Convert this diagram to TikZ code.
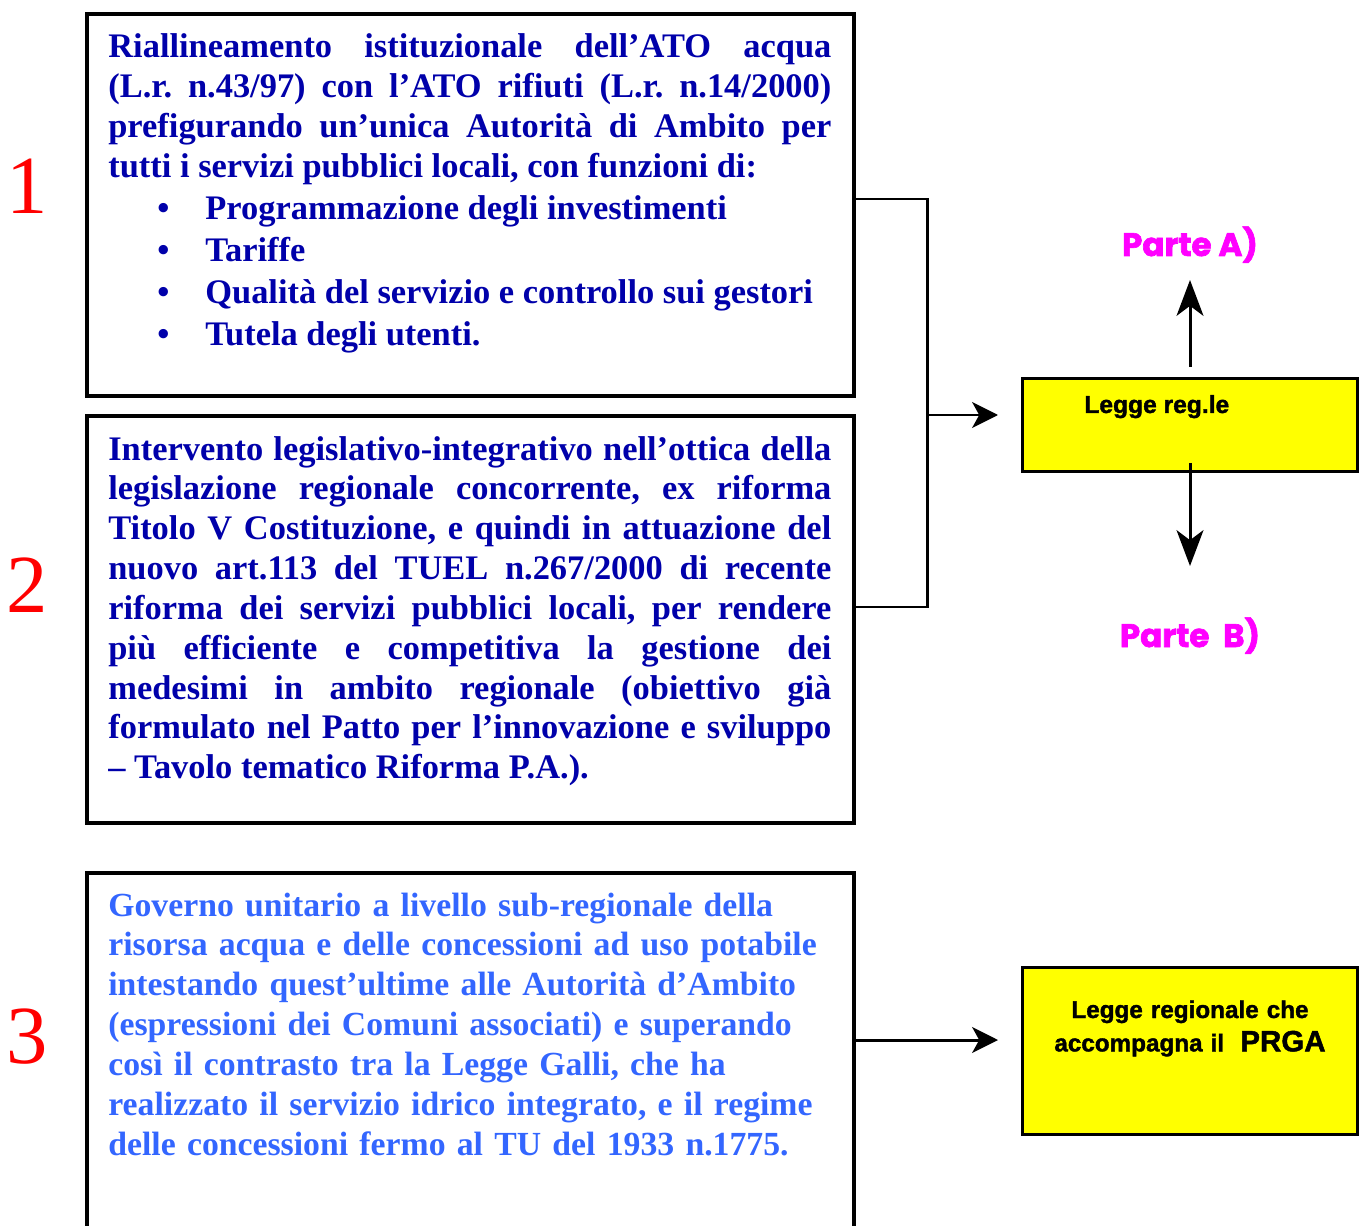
\documentclass[tikz,border=0pt]{standalone}
\usepackage{fontspec}
\setmainfont{Liberation Serif}
\newfontfamily\sansb{Liberation Sans}[BoldFeatures={FakeBold=1.5}]
\newfontfamily\partefont{Poppins}[BoldFeatures={FakeBold=2}]
\usetikzlibrary{arrows.meta,calc}
\newlength\px \setlength\px{0.02cm}
\definecolor{dblue}{RGB}{0,0,170}
\definecolor{lblue}{RGB}{51,102,255}
\definecolor{mag}{RGB}{255,0,255}
\definecolor{yel}{RGB}{255,255,0}
\hyphenpenalty=10000 \exhyphenpenalty=10000
\frenchspacing
\begin{document}
\begin{tikzpicture}[x=0.02cm,y=-0.02cm,
 bigbox/.style={draw,line width=2.83pt,minimum width=767\px,inner sep=0},
 body/.style={anchor=base west,text width=723\px,inner sep=0,align=justify,
   font=\fontsize{19.6}{22.68}\selectfont\bfseries},
 num/.style={text=red,font=\fontsize{47}{50}\selectfont,inner sep=0},
 ybox/.style={draw,fill=yel,line width=1.7pt,minimum width=335\px,inner sep=0},
 conn/.style={line width=1.7pt},
 arr/.style={line width=1.7pt,-{Stealth[length=14.7pt,width=14.7pt,inset=4pt]}},
 varr/.style={line width=1.7pt,-{Stealth[length=20.4pt,width=15.3pt,inset=5.7pt]}},
 parte/.style={text=mag,font=\partefont\bfseries\fontsize{18.5}{22}\selectfont,inner sep=0,anchor=base}]
\useasboundingbox (0,0) rectangle (1366,1226);
\clip (0,0) rectangle (1366,1226);

% big boxes
\node[bigbox,minimum height=382\px] (b1) at (470.5,205) {};
\node[bigbox,minimum height=407\px] (b2) at (470.5,619.5) {};
\node[bigbox,minimum height=387\px] (b3) at (470.5,1066.5) {};

% numbers
\node[num] (n1) at (27,186) {1};
\node[num] (n2) at (27,585) {2};
\node[num] (n3) at (27,1037) {3};

% box 1 text
\node[body,text=dblue] (t1) at (108,58) {%
Riallineamento istituzionale dell’ATO acqua\linebreak
(L.r. n.43/97) con l’ATO rifiuti (L.r. n.14/2000)\linebreak
prefigurando un’unica Autorità di Ambito per\linebreak
tutti i servizi pubblici locali, con funzioni di:\par
\setlength{\baselineskip}{42\px}%
\noindent\hspace*{49\px}\makebox[48\px][l]{•}Programmazione degli investimenti\par
\noindent\hspace*{49\px}\makebox[48\px][l]{•}Tariffe\par
\noindent\hspace*{49\px}\makebox[48\px][l]{•}Qualità del servizio e controllo sui gestori\par
\noindent\hspace*{49\px}\makebox[48\px][l]{•}Tutela degli utenti.\par};

% box 2 text
\node[body,text=dblue] (t2) at (108,460) {%
Intervento legislativo-integrativo nell’ottica della\linebreak
legislazione regionale concorrente, ex riforma\linebreak
Titolo V Costituzione, e quindi in attuazione del\linebreak
nuovo art.113 del TUEL n.267/2000 di recente\linebreak
riforma dei servizi pubblici locali, per rendere\linebreak
più efficiente e competitiva la gestione dei\linebreak
medesimi in ambito regionale (obiettivo già\linebreak
formulato nel Patto per l’innovazione e sviluppo\linebreak
– Tavolo tematico Riforma P.A.).\par};

% box 3 text
\node[body,align=left,text width=740\px,text=lblue,
  font=\fontsize{19.2}{22.68}\selectfont\bfseries] (t3) at (108,916) {%
Governo unitario a livello sub-regionale della\\
risorsa acqua e delle concessioni ad uso potabile\\
intestando quest’ultime alle Autorità d’Ambito\\
(espressioni dei Comuni associati) e superando\\
così il contrasto tra la Legge Galli, che ha\\
realizzato il servizio idrico integrato, e il regime\\
delle concessioni fermo al TU del 1933 n.1775.};

% yellow boxes
\node[ybox,minimum height=93\px] (y1) at (1190,425) {};
\node[anchor=base west,inner sep=0,font=\sansb\bfseries\fontsize{14}{16}\selectfont] (y1t) at (1084,413) {Legge reg.le};
\node[ybox,minimum height=167\px] (y2) at (1190,1051) {};
\node[anchor=base,inner sep=0,text width=330\px,align=center,
  font=\sansb\bfseries\fontsize{13.8}{19}\selectfont] (y2t) at (1190,1018)
  {Legge regionale che\\ accompagna il \ {\fontsize{16.8}{19}\selectfont PRGA}};

% Parte labels
\node[parte] (pA) at (1190,256) {Parte A)};
\node[parte] (pB) at (1190,647) {Parte \ B)};

% bracket connector
\coordinate (jt) at (927,199);
\coordinate (jb) at (927,607);
\coordinate (j) at (927,415);
\coordinate (jend) at (998,415);
\draw[conn] (b1.east |- jt) -- (jt) -- (jb) -- (b2.east |- jb);
\draw[arr] (j) -- (jend);

% vertical arrows
\coordinate (upend) at (1190,280);
\coordinate (downend) at (1190,566);
\draw[varr] ([yshift=5.7pt]y1.north) -- (upend);
\draw[varr] ([yshift=5.7pt]y1.south) -- (downend);

% box 3 arrow
\coordinate (c3) at (854,1040);
\coordinate (c3end) at (998,1040);
\draw[arr] (b3.east |- c3) -- (c3end);
\end{tikzpicture}
\end{document}
